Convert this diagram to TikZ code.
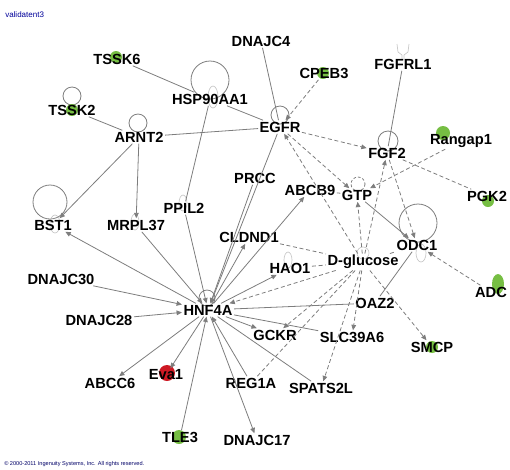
\documentclass[tikz,border=0pt]{standalone}
\usepackage{fontspec}
\setmainfont{Liberation Sans}
\usetikzlibrary{arrows.meta}
\definecolor{ipagreen}{RGB}{118,190,67}
\definecolor{ipared}{RGB}{205,25,35}
\definecolor{edgegray}{RGB}{125,125,125}
\tikzset{
  gene/.style={font=\bfseries\fontsize{11}{12}\selectfont, inner sep=1pt},
  rel/.style={draw=edgegray, line width=0.6pt},
  act/.style={rel, -{Triangle[length=4pt,width=3.5pt]}},
  indir/.style={rel, dash pattern=on 3pt off 2pt},
  indact/.style={indir, -{Triangle[length=4pt,width=3.5pt]}},
  selfloop/.style={draw=edgegray, line width=0.6pt},
  faint/.style={draw=gray!45, line width=0.5pt},
}
\begin{document}
\begin{tikzpicture}[x=0.75pt,y=-0.75pt]
\useasboundingbox (0,0) rectangle (510,469);
% self loops
\draw[selfloop] (210,80) circle (19);
\draw[selfloop] (72,96) circle (9);
\draw[selfloop] (138,123) circle (9);
\draw[selfloop] (50,202) circle (17);
\draw[selfloop] (280,115) circle (9);
\draw[selfloop] (388,141) circle (10);
\draw[selfloop] (418,223) circle (19);
\draw[selfloop] (207,298) circle (8);
\draw[selfloop,dash pattern=on 2pt off 1.5pt] (358,184) circle (7);
\draw[faint] (363,253) circle (6);
% faint symbols
\draw[faint] (213,97) ellipse (5 and 11);
\draw[faint] (183,203) ellipse (4 and 8);
\draw[faint] (135,222) ellipse (4 and 8);
\draw[faint] (55,224) ellipse (5 and 9);
\draw[faint] (288,260) ellipse (4 and 8);
\draw[faint] (421,253) ellipse (5 and 9);
% receptor of FGFRL1
\draw[faint] (397,44) -- (398,52) -- (402,55) -- (402,60) (409,44) -- (408,52) -- (404,55) -- (404,60);
% coloured symbols
\fill[ipagreen] (116,57) circle (6);
\fill[ipagreen] (72,110) circle (6);
\fill[ipagreen] (323,73) circle (6);
\fill[ipagreen] (443,133) circle (7);
\fill[ipagreen] (488,201) circle (6);
\fill[ipagreen] (432,347) circle (6);
\fill[ipagreen] (179,437) circle (7);
\fill[ipagreen] (498,284) ellipse (6 and 10);
\fill[ipared] (167,373) circle (8);
% genes
\node[gene] (tssk6) at (117,59) {TSSK6};
\node[gene] (hsp) at (210,99) {HSP90AA1};
\node[gene] (dnajc4) at (261,41) {DNAJC4};
\node[gene] (cpeb3) at (324,73) {CPEB3};
\node[gene] (fgfrl) at (403,64) {FGFRL1};
\node[gene] (tssk2) at (72,110) {TSSK2};
\node[gene] (arnt2) at (139,137) {ARNT2};
\node[gene] (egfr) at (280,127) {EGFR};
\node[gene] (fgf2) at (387,153) {FGF2};
\node[gene] (rangap) at (461,141) {Rangap1};
\node[gene] (pgk2) at (487,196) {PGK2};
\node[gene] (gtp) at (357,195) {GTP};
\node[gene] (abcb9) at (310,190) {ABCB9};
\node[gene] (odc1) at (417,245) {ODC1};
\node[gene] (dglu) at (363,262) {D-glucose};
\node[gene] (hao) at (290,268) {HAO1};
\node[gene] (oaz2) at (375,303) {OAZ2};
\node[gene] (adc) at (491,292) {ADC};
\node[gene] (cldnd) at (249,237) {CLDND1};
\node[gene] (prcc) at (255,178) {PRCC};
\node[gene] (ppil) at (184,208) {PPIL2};
\node[gene] (mrpl) at (136,225) {MRPL37};
\node[gene] (bst1) at (53,225) {BST1};
\node[gene] (dnajc30) at (61,279) {DNAJC30};
\node[gene] (hnf) at (208,310) {HNF4A};
\node[gene] (dnajc28) at (99,320) {DNAJC28};
\node[gene] (gckr) at (275,335) {GCKR};
\node[gene] (slc) at (352,337) {SLC39A6};
\node[gene] (smcp) at (432,347) {SMCP};
\node[gene] (spats) at (321,388) {SPATS2L};
\node[gene] (reg1a) at (251,383) {REG1A};
\node[gene] (abcc6) at (110,383) {ABCC6};
\node[gene] (eva) at (166,375) {Eva1};
\node[gene] (tle3) at (180,437) {TLE3};
\node[gene] (dnajc17) at (257,440) {DNAJC17};
% captions
\node[font=\fontsize{6}{7}\selectfont, text=blue!60!black, inner sep=0pt, anchor=west] (tag) at (5,15) {validatent3};
\node[font=\fontsize{4.2}{5}\selectfont, text=blue!40!black, inner sep=0pt, anchor=west] (copy) at (4,464) {\textcopyright\ 2000-2011 Ingenuity Systems, Inc. All rights reserved.};
% direct relations
\draw[rel] (tssk6) -- (hsp);
\draw[rel] (hsp) -- (egfr);
\draw[rel] (tssk2) -- (arnt2);
\draw[rel] (arnt2) -- (egfr);
\draw[act] (arnt2) -- (bst1);
\draw[act] (arnt2) -- (mrpl);
\draw[rel] (hsp) -- (ppil);
\draw[rel] (dnajc4) -- (egfr);
\draw[rel] (fgfrl) -- (fgf2);
\draw[act] (hnf) -- (bst1);
\draw[act] (mrpl) -- (hnf);
\draw[act] (ppil) -- (hnf);
\draw[act] (prcc) -- (hnf);
\draw[act] (egfr) -- (hnf);
\draw[act] (hnf) -- (cldnd);
\draw[act] (hnf) -- (abcb9);
\draw[act] (hnf) -- (hao);
\draw[rel] (hnf) -- (oaz2);
\draw[rel] (oaz2) -- (odc1);
\draw[act] (hnf) -- (gckr);
\draw[rel] (hnf) -- (slc);
\draw[rel] (hnf) -- (spats);
\draw[act] (dnajc30) -- (hnf);
\draw[act] (dnajc28) -- (hnf);
\draw[act] (hnf) -- (abcc6);
\draw[act] (hnf) -- (eva);
\draw[act] (tle3) -- (hnf);
\draw[act] (reg1a) -- (hnf);
\draw[act] (hnf) -- (dnajc17);
\draw[rel] (abcb9) -- (gtp);
\draw[act] (gtp) -- (odc1);
% indirect relations
\draw[indact] (cpeb3) -- (egfr);
\draw[indact] (egfr) -- (fgf2);
\draw[indact] (egfr) -- (gtp);
\draw[indact] (dglu) -- (egfr);
\draw[indact] (rangap) -- (gtp);
\draw[indir] (fgf2) -- (pgk2);
\draw[indact] (fgf2) -- (odc1);
\draw[indact] (dglu) -- (fgf2);
\draw[indact] (dglu) -- (gtp);
\draw[indir] (cldnd) -- (dglu);
\draw[indir] (hao) -- (dglu);
\draw[indir] (dglu) -- (odc1);
\draw[indact] (adc) -- (odc1);
\draw[indact] (dglu) -- (hnf);
\draw[indact] (dglu) -- (gckr);
\draw[indact] (dglu) -- (slc);
\draw[indact] (dglu) -- (spats);
\draw[indir] (dglu) -- (reg1a);
\draw[indact] (dglu) -- (smcp);
\end{tikzpicture}
\end{document}
